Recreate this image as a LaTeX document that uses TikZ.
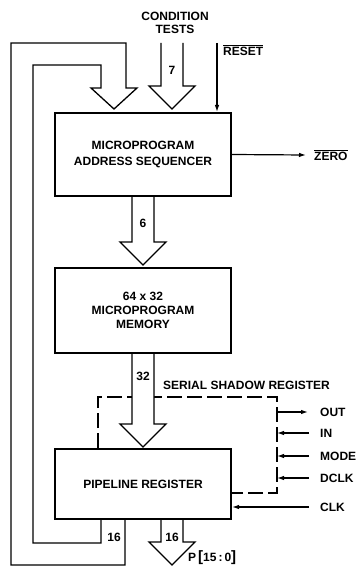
\documentclass[tikz,border=0pt]{standalone}
\usepackage{fontspec}
\setmainfont{Liberation Sans}
\usepackage{tikz}
\usetikzlibrary{arrows.meta,calc}
\newcommand{\diafont}{\fontsize{12}{14}\selectfont\bfseries}
\tikzset{
  blk/.style={draw, line width=2pt, align=center, minimum width=176pt, font=\diafont},
  bus/.style={draw, fill=white, line width=1.3pt, line join=miter},
  arr/.style={-{Latex[length=7pt,width=4.5pt]}, line width=1.2pt},
  lbl/.style={font=\diafont, inner sep=1pt},
  sig/.style={font=\diafont, inner sep=1pt, anchor=west},
  shadow/.style={line width=1.3pt, dash pattern=on 15pt off 5pt}
}
% fat bus arrow: #1 = start of the shaft, #2 = tip
\newcommand{\busarrow}[2]{%
  \path[bus] let \p1=(#1), \p2=(#2) in
    (\x1-11pt,\y1) -- (\x1-11pt,\y2+23pt) -- (\x1-23pt,\y2+23pt) -- (\x2,\y2)
    -- (\x1+23pt,\y2+23pt) -- (\x1+11pt,\y2+23pt) -- (\x1+11pt,\y1);}
\begin{document}
\begin{tikzpicture}[x=1pt, y=-1pt]
  \useasboundingbox (0,0) rectangle (358,567);
  % blocks
  \node[blk, minimum height=83pt] (seq) at (143,154.5) {MICROPROGRAM\\[2pt]ADDRESS SEQUENCER};
  \node[blk, minimum height=85pt] (mem) at (143,310.5) {64 x 32\\MICROPROGRAM\\MEMORY};
  \node[blk, minimum height=70pt] (pipe) at (143,484) {\raisebox{-3pt}{PIPELINE REGISTER}};
  % inputs at the top
  \node[lbl, align=center, font=\fontsize{12}{13}\selectfont\bfseries] (cond) at (175,23) {CONDITION\\TESTS};
  \coordinate (ctop) at (172,43);
  \busarrow{ctop}{[xshift=29pt,yshift=3pt]seq.north}
  \node[lbl] (n7) at (172,70) {7};
  \coordinate (rtop) at (217,43);
  \node[sig] (reset) at (222,50) {$\overline{\hbox{\diafont RESET}}$};
  \draw[arr] (rtop) -- (rtop |- seq.north);
  % feedback loop from the pipeline register
  \path[bus, fill=none] ([xshift=-42pt]pipe.south) -- (101,543) -- (33,543) -- (33,65) -- (101,65)
    -- (101,88) -- (91,88) -- ([xshift=-29pt,yshift=3pt]seq.north) -- (137,88) -- (126,88)
    -- (126,43) -- (11,43) -- (11,565) -- (125,565) -- ([xshift=-18pt]pipe.south);
  \node[lbl] (n16a) at (114,537) {16};
  % output of the sequencer
  \node[sig] (zero) at (313,155) {$\overline{\hbox{\diafont ZERO}}$};
  \draw[arr] (seq.east) -- ([xshift=-7pt]zero.west);
  % sequencer -> memory -> pipeline
  \busarrow{seq.south}{[yshift=2pt]mem.north}
  \node[lbl] (n6) at (143,223) {6};
  \coordinate (shTL) at (98,397);
  \coordinate (shBR) at (277,493);
  \draw[shadow] (shTL |- pipe.north) -- (shTL) -- (shTL -| shBR) -- (shBR) -- (shBR -| pipe.east);
  \busarrow{mem.south}{[yshift=1pt]pipe.north}
  \node[lbl] (n32) at (143,376) {32};
  \node[sig] (shname) at (162,385) {SERIAL SHADOW REGISTER};
  % serial shadow register signals
  \node[sig] (sOUT) at (319,412) {OUT};
  \draw[arr] (shBR |- sOUT) -- ([xshift=-11pt]sOUT.west);
  \foreach \name/\y in {IN/433, MODE/456, DCLK/478} {
    \node[sig] (s\name) at (319,\y) {\name};
    \draw[arr] ([xshift=-10pt]s\name.west) -- (shBR |- s\name);
  }
  \node[sig] (sCLK) at (319,507) {CLK};
  \draw[arr] ([xshift=-10pt]sCLK.west) -- (pipe.east |- sCLK);
  % pipeline output
  \coordinate (ptip) at (172,565);
  \busarrow{[xshift=29pt]pipe.south}{ptip}
  \node[lbl] (n16b) at (172,537) {16};
  \node[sig] (pout) at (187,558) {P\,{\fontsize{15}{15}\selectfont[}15\,:\,0{\fontsize{15}{15}\selectfont]}};
\end{tikzpicture}
\end{document}
